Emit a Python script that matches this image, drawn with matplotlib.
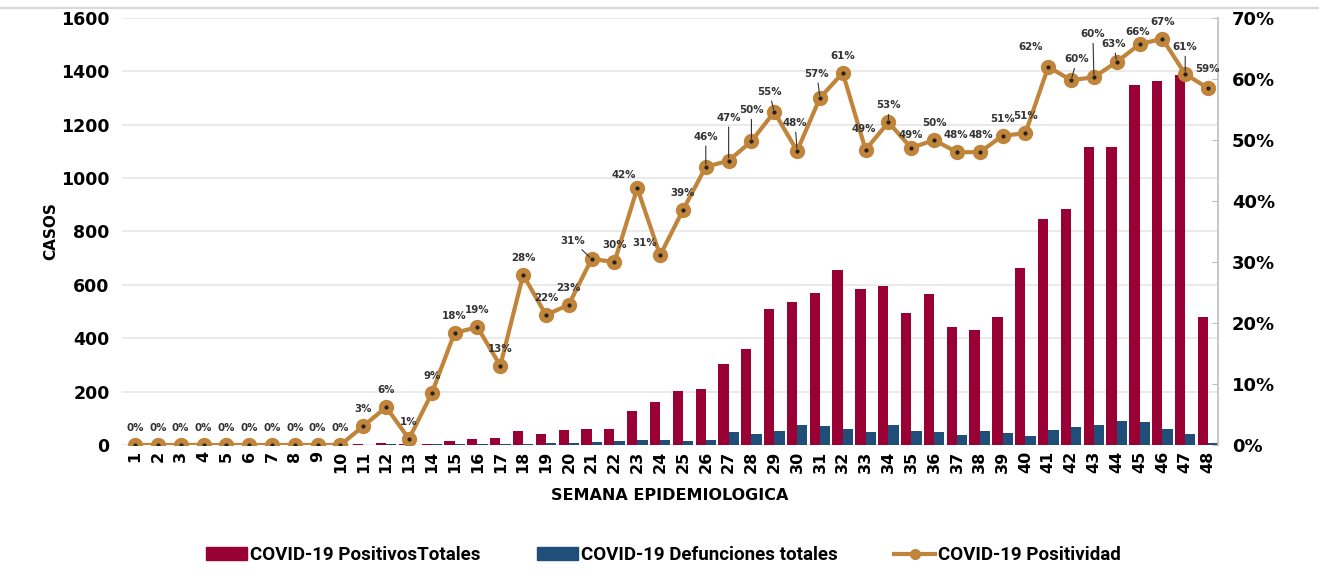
import numpy as np
import matplotlib
matplotlib.use('Agg')
import matplotlib.pyplot as plt
from matplotlib.lines import Line2D
from matplotlib.patches import Patch

# semanas epidemiologicas 1..48
semanas = list(range(1, 49))

positivos = [0, 0, 0, 0, 0, 0, 0, 0, 0, 0,
             3, 8, 3, 5, 16, 24, 27, 51, 42, 55,
             61, 61, 129, 161, 204, 211, 305, 360, 509, 537,
             569, 656, 584, 594, 493, 565, 441, 431, 478, 662,
             846, 886, 1117, 1117, 1348, 1363, 1386, 480]

defunciones = [0, 0, 0, 0, 0, 0, 0, 0, 0, 0,
               1, 3, 0, 4, 4, 2, 4, 4, 8, 8,
               12, 14, 17, 17, 15, 18, 47, 41, 51, 76,
               71, 61, 47, 76, 51, 47, 37, 51, 44, 34,
               56, 67, 76, 91, 86, 59, 42, 9]

positividad = [0, 0, 0, 0, 0, 0, 0, 0, 0, 0,
               3.1, 6.2, 1.0, 8.5, 18.4, 19.3, 13.0, 27.9, 21.3, 23.0,
               30.5, 30.0, 42.1, 31.1, 38.5, 45.6, 46.6, 49.8, 54.6, 48.2,
               56.9, 61.0, 48.4, 52.9, 48.7, 50.0, 48.0, 48.0, 50.7, 51.1,
               62.0, 59.8, 60.3, 62.8, 65.7, 66.6, 60.8, 58.5]

etiquetas = ['0%'] * 10 + ['3%', '6%', '1%', '9%', '18%', '19%', '13%', '28%', '22%', '23%',
                           '31%', '30%', '42%', '31%', '39%', '46%', '47%', '50%', '55%', '48%',
                           '57%', '61%', '49%', '53%', '49%', '50%', '48%', '48%', '51%', '51%',
                           '62%', '60%', '60%', '63%', '66%', '67%', '61%', '59%']

# label offsets in pixels (dx, dy) and whether a leader line is drawn
label_off = {21: (-19, 18, True), 23: (-13, 13, False), 24: (-15, 12, False),
             26: (0, 30, True), 27: (0, 43, True), 28: (0, 31, True),
             29: (-5, 20, True), 30: (-2, 28, True), 31: (-3, 24, True),
             33: (-2, 21, False), 34: (0, 17, True), 35: (0, 13, False),
             37: (-1, 17, False), 38: (1, 17, False),
             41: (-18, 20, False), 42: (6, 21, True), 43: (-1, 43, True),
             44: (-3, 18, True), 45: (-2, 12, False), 47: (0, 27, True), 48: (-1, 19, False)}

c_pos = '#990033'
c_def = '#1F4E79'
c_line = '#C0843A'

plt.rcParams['font.family'] = ['DejaVu Sans']
fig = plt.figure(figsize=(13.19, 5.77), dpi=100)
ax = fig.add_axes([0.0925, 0.2288, 0.831, 0.74])

x = np.array(semanas)
w = 0.45
ax.bar(x - w/2, positivos, width=w, color=c_pos, zorder=2)
ax.bar(x + w/2, defunciones, width=w, color=c_def, zorder=2)
ax.set_xlim(0.43, 48.44)
ax.set_ylim(0, 1600)
ax.set_yticks(range(0, 1601, 200))
ax.yaxis.grid(True, color='#E6E6E6', lw=1.2, zorder=0)
ax.set_axisbelow(True)
for s in ax.spines.values():
    s.set_visible(False)
ax.tick_params(axis='y', length=0, labelsize=12.5, pad=9)
ax.tick_params(axis='x', length=0, labelsize=11.5, rotation=90, pad=4)
ax.set_xticks(semanas)
for t in ax.get_xticklabels() + ax.get_yticklabels():
    t.set_fontweight('bold')
ax.set_ylabel('CASOS', fontsize=11, fontweight='bold', labelpad=2)
ax.set_xlabel('SEMANA EPIDEMIOLOGICA', fontsize=11.5, fontweight='bold', labelpad=11)

ax2 = ax.twinx()
ax2.plot(x, positividad, color=c_line, lw=3, marker='o', markersize=10,
         markerfacecolor=c_line, markeredgecolor=c_line, zorder=3)
ax2.plot(x, positividad, ls='none', marker='o', markersize=2, color='#222222', zorder=4)
ax2.set_ylim(0, 70)
ax2.set_yticks(range(0, 71, 10))
ax2.set_yticklabels([f'{v}%' for v in range(0, 71, 10)])
for s in ['top', 'left', 'bottom']:
    ax2.spines[s].set_visible(False)
ax2.spines['right'].set_color('#BFBFBF')
ax2.spines['right'].set_linewidth(1.2)
ax2.tick_params(axis='y', direction='in', length=4, color='#BFBFBF', labelsize=13, pad=10)
for t in ax2.get_yticklabels():
    t.set_fontweight('bold')

for wk, val, lab in zip(semanas, positividad, etiquetas):
    dx, dy, leader = label_off.get(wk, (0, 17, False))
    kw = {}
    if leader:
        kw['arrowprops'] = dict(arrowstyle='-', color='#333333', lw=0.8, shrinkA=1, shrinkB=2)
    ax2.annotate(lab, xy=(wk, val), xytext=(dx, dy), textcoords='offset pixels',
                 ha='center', va='center', fontsize=7.4, fontweight='bold',
                 color='#333333', zorder=5, **kw)

handles = [Patch(color=c_pos), Patch(color=c_def),
           Line2D([0], [0], color=c_line, lw=3, marker='o', markersize=7,
                  markerfacecolor=c_line)]
labels = ['COVID-19 PositivosTotales', 'COVID-19 Defunciones totales', 'COVID-19 Positividad']
fig.legend(handles, labels, loc='center', bbox_to_anchor=(0.503, 0.038), ncol=3,
           frameon=False, columnspacing=3.0, handlelength=2.2, handletextpad=0.15,
           prop={'family': 'Roboto', 'weight': 'bold', 'size': 13.5})

fig.add_artist(Line2D([0, 1], [0.986, 0.986], color='#D9D9D9', lw=1.5, transform=fig.transFigure))

fig.savefig('out.png', dpi=100)
